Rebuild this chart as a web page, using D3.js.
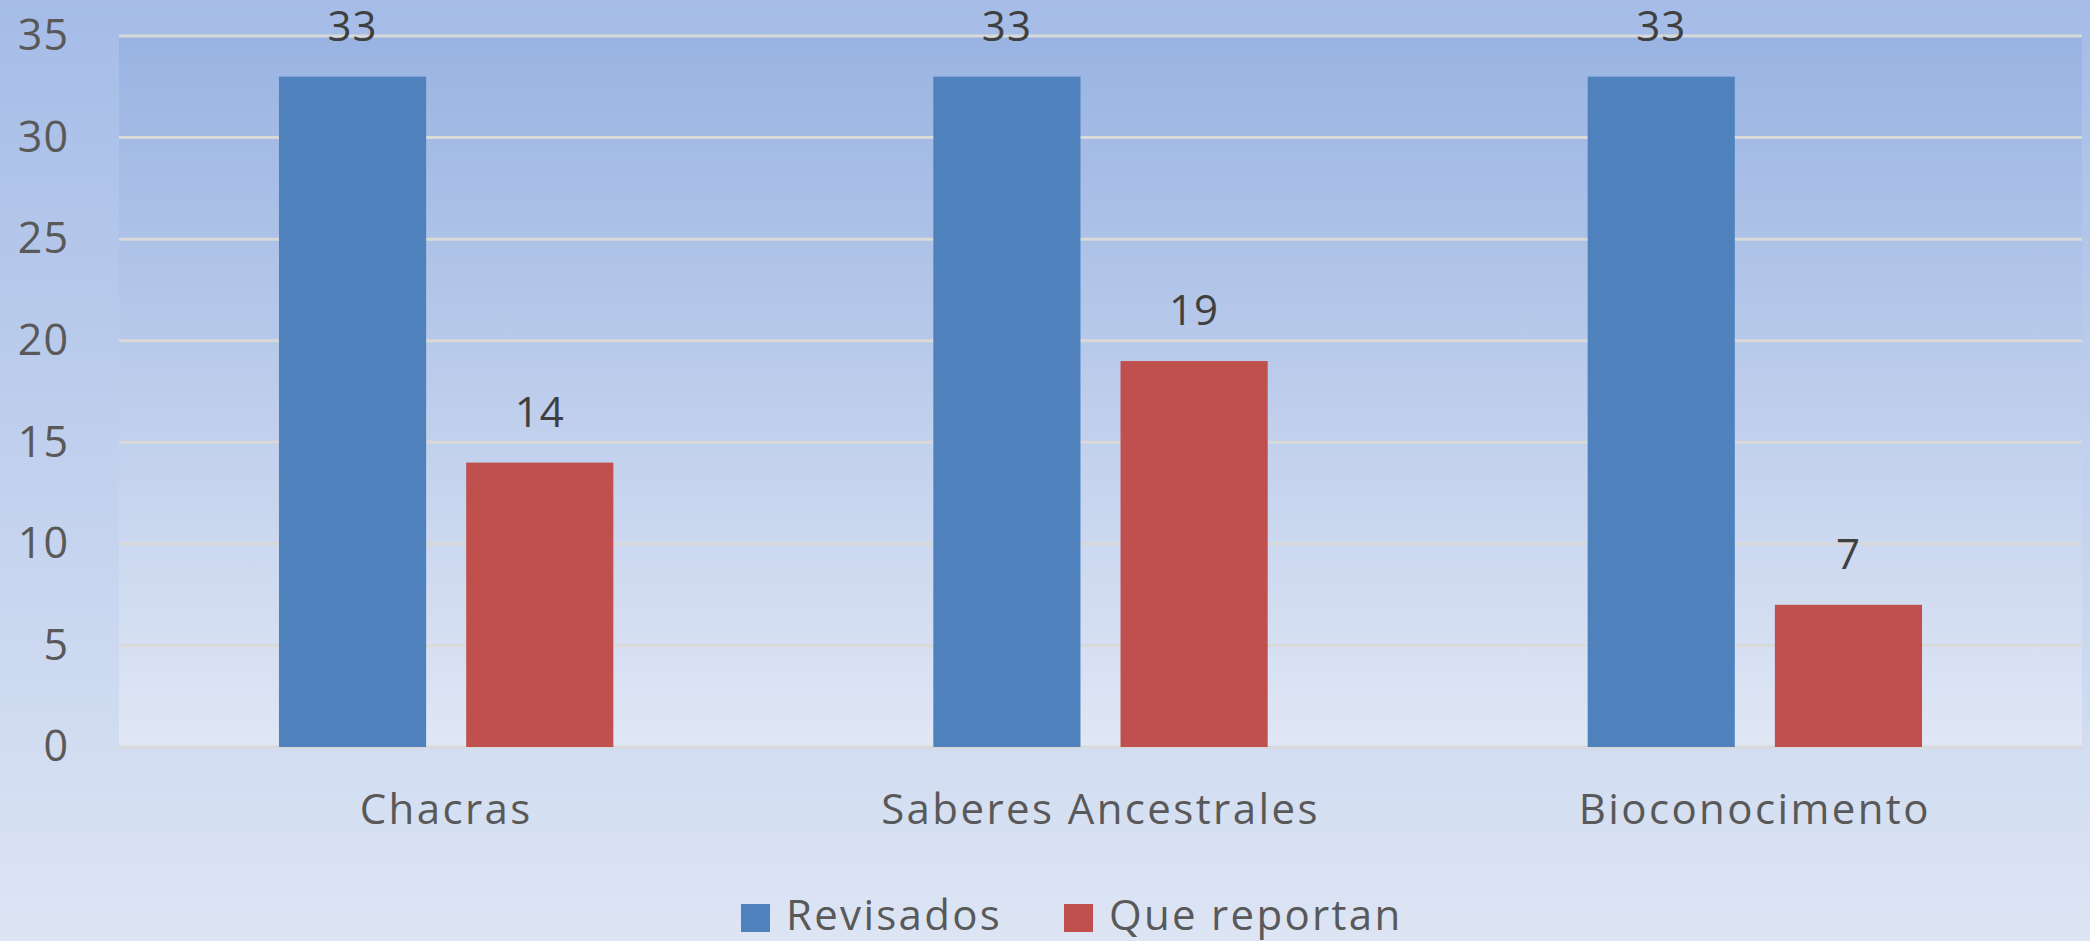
<!DOCTYPE html>
<html>
<head>
<meta charset="utf-8">
<script src="https://cdn.jsdelivr.net/npm/d3@7"></script>
<style>
  html, body { margin: 0; padding: 0; }
  body { width: 2090px; height: 941px; overflow: hidden; }
  text { font-family: "Open Sans", sans-serif; }
</style>
</head>
<body>
<div id="chart"></div>
<script>
// data
const categories = ["Chacras", "Saberes Ancestrales", "Bioconocimento"];
const seriesNames = ["Revisados", "Que reportan"];
const revisados = [33, 33, 33];
const queReportan = [14, 19, 7];
const yTicks = [0, 5, 10, 15, 20, 25, 30, 35];
const colors = ["#4f81bd", "#c0504d"];

const W = 2090, H = 941;
const plot = {left: 119, right: 2082, top: 36, bottom: 747};

const svg = d3.select("#chart").append("svg")
  .attr("width", W).attr("height", H);

const defs = svg.append("defs");
const bgGrad = defs.append("linearGradient").attr("id", "bgGrad")
  .attr("x1", 0).attr("y1", 0).attr("x2", 0).attr("y2", 1);
bgGrad.append("stop").attr("offset", "0%").attr("stop-color", "#a5bce7");
bgGrad.append("stop").attr("offset", "100%").attr("stop-color", "#dde5f4");
const plotGrad = defs.append("linearGradient").attr("id", "plotGrad")
  .attr("x1", 0).attr("y1", 0).attr("x2", 0).attr("y2", 1);
plotGrad.append("stop").attr("offset", "0%").attr("stop-color", "#99b3e2");
plotGrad.append("stop").attr("offset", "100%").attr("stop-color", "#e0e7f5");

svg.append("rect").attr("width", W).attr("height", H).attr("fill", "url(#bgGrad)");

const y = d3.scaleLinear().domain([0, 35]).range([plot.bottom, plot.top]);
const x = d3.scaleBand().domain(categories).range([plot.left, plot.right]);
const groupW = x.bandwidth() * 0.511;
const xSub = d3.scaleBand().domain(seriesNames).range([0, groupW]).paddingInner(0.214);

svg.append("rect")
  .attr("x", plot.left).attr("y", plot.top)
  .attr("width", plot.right - plot.left).attr("height", plot.bottom - plot.top)
  .attr("fill", "url(#plotGrad)");

// gridlines
svg.append("g").selectAll("line").data(yTicks).join("line")
  .attr("x1", plot.left).attr("x2", plot.right)
  .attr("y1", d => y(d)).attr("y2", d => y(d))
  .attr("stroke", "#d9d9d9").attr("stroke-width", 3);

// y axis labels
const yAxis = svg.append("g")
  .attr("transform", `translate(${plot.left},0)`)
  .call(d3.axisLeft(y).tickValues(yTicks).tickSize(0).tickPadding(50));
yAxis.select(".domain").remove();
yAxis.selectAll("text")
  .attr("fill", "#595959").style("font-size", "43px")
  .style("letter-spacing", "1px")
  .style("font-family", "'Open Sans', sans-serif");

// bars
const rows = categories.map((c, i) => ({cat: c, vals: [revisados[i], queReportan[i]]}));
const groups = svg.append("g").selectAll("g").data(rows).join("g")
  .attr("transform", d => `translate(${x(d.cat) + (x.bandwidth() - groupW) / 2},0)`);

groups.selectAll("rect").data(d => d.vals.map((v, j) => ({s: seriesNames[j], v, j})))
  .join("rect")
  .attr("x", d => xSub(d.s))
  .attr("y", d => y(d.v))
  .attr("width", xSub.bandwidth())
  .attr("height", d => y(0) - y(d.v))
  .attr("fill", d => colors[d.j]);

groups.selectAll("text").data(d => d.vals.map((v, j) => ({s: seriesNames[j], v, j})))
  .join("text")
  .attr("x", d => xSub(d.s) + xSub.bandwidth() / 2)
  .attr("y", d => y(d.v) - 36)
  .attr("text-anchor", "middle")
  .attr("fill", "#404040")
  .style("font-size", "42px")
  .style("letter-spacing", "1px")
  .text(d => d.v);

// x axis labels
svg.append("g").selectAll("text").data(categories).join("text")
  .attr("x", d => x(d) + x.bandwidth() / 2)
  .attr("y", 824)
  .attr("text-anchor", "middle")
  .attr("fill", "#595959")
  .style("font-size", "42px")
  .style("letter-spacing", "2.4px")
  .text(d => d);

// legend
const legend = svg.append("g");
const legendX = [741, 1064];
seriesNames.forEach((s, i) => {
  legend.append("rect")
    .attr("x", legendX[i]).attr("y", 904)
    .attr("width", 29).attr("height", 28)
    .attr("fill", colors[i]);
  legend.append("text")
    .attr("x", legendX[i] + 45).attr("y", 930)
    .attr("fill", "#595959")
    .style("font-size", "42px")
    .style("letter-spacing", "2.3px")
    .text(s);
});
</script>
</body>
</html>
